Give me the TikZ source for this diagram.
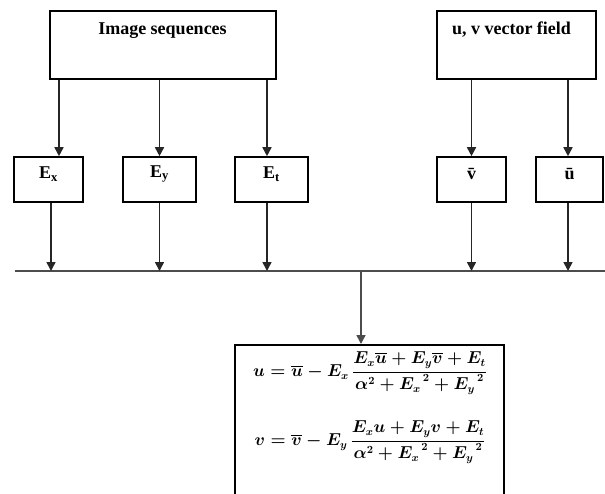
\documentclass[tikz,border=0pt]{standalone}
\usepackage{fontspec}
\setmainfont{Liberation Serif}
\usepackage{amsmath}
\usetikzlibrary{arrows.meta}

\tikzset{
  box/.style={draw=black, line width=1.6pt, fill=white, inner sep=0pt},
  lbl/.style={font=\fontsize{18}{20}\selectfont\bfseries, inner sep=0pt},
  arr/.style={line width=1.6pt, draw=black!85,
    -{Triangle[length=9pt,width=9pt]}},
  busline/.style={line width=1.8pt, draw=black!70},
  eqn/.style={font=\fontsize{16}{19}\selectfont\boldmath, inner sep=0pt},
}

\begin{document}
\begin{tikzpicture}[x=1pt, y=-1pt]
\useasboundingbox (0,0) rectangle (605,493);
\clip (0,0) rectangle (605,493);

% source boxes
\node[box, minimum width=226pt, minimum height=68pt] (seq) at (163,45) {};
\node[lbl] (seqtxt) at (162.5,31) {Image sequences};
\node[box, minimum width=159pt, minimum height=68pt] (uv) at (516.5,45) {};
\node[lbl] (uvtxt) at (511.5,30) {u, v vector field};

% derivative and mean boxes
\node[box, minimum width=69pt, minimum height=45pt] (ex) at (48.5,179.5) {};
\node[box, minimum width=73pt, minimum height=45pt] (ey) at (159.5,179.5) {};
\node[box, minimum width=73pt, minimum height=45pt] (et) at (271.5,179.5) {};
\node[box, minimum width=69pt, minimum height=45pt] (vb) at (471.5,179.5) {};
\node[box, minimum width=67pt, minimum height=45pt] (ub) at (569.5,179.5) {};
\node[lbl] (extxt) at (48.5,174) {E\textsubscript{x}};
\node[lbl] (eytxt) at (159.5,174) {E\textsubscript{y}};
\node[lbl] (ettxt) at (271.5,174) {E\textsubscript{t}};
\node[lbl] (vbtxt) at (471.5,174) {\=v};
\node[lbl] (ubtxt) at (569.5,174) {\=u};

% arrows from the source boxes
\draw[arr] ([xshift=10.5pt]ex.north |- seq.south) -- ([xshift=10.5pt]ex.north);
\draw[arr] (ey.north |- seq.south) -- (ey.north);
\draw[arr] ([xshift=-4.5pt]et.north |- seq.south) -- ([xshift=-4.5pt]et.north);
\draw[arr] (vb.north |- uv.south) -- (vb.north);
\draw[arr] ([xshift=-1.5pt]ub.north |- uv.south) -- ([xshift=-1.5pt]ub.north);

% collecting bus
\coordinate (busL) at (15,271);
\coordinate (busR) at (606,271);
\coordinate (tap) at (361,271);
\draw[busline] (busL) -- (busR);

\draw[arr] ([xshift=2.5pt]ex.south) -- ([xshift=2.5pt]ex.south |- busL);
\draw[arr] (ey.south) -- (ey.south |- busL);
\draw[arr] ([xshift=-4.5pt]et.south) -- ([xshift=-4.5pt]et.south |- busL);
\draw[arr] (vb.south) -- (vb.south |- busL);
\draw[arr] ([xshift=-1.5pt]ub.south) -- ([xshift=-1.5pt]ub.south |- busL);

% result box (runs past the lower edge)
\node[box, minimum width=269pt, minimum height=170pt, anchor=north] (res) at (369.5,344) {};
\draw[arr, draw=black!70] (tap) -- (tap |- res.north);

\node[eqn] (eq1) at (370,373) {$\displaystyle u=\overline{u}-E_x\,\frac{E_x\overline{u}+E_y\overline{v}+E_t}{\alpha^2+{E_x}^{\,2}+{E_y}^{\,2}}$};
\node[eqn] (eq2) at (370,442) {$\displaystyle v=\overline{v}-E_y\,\frac{E_xu+E_yv+E_t}{\alpha^2+{E_x}^{\,2}+{E_y}^{\,2}}$};
\end{tikzpicture}
\end{document}
